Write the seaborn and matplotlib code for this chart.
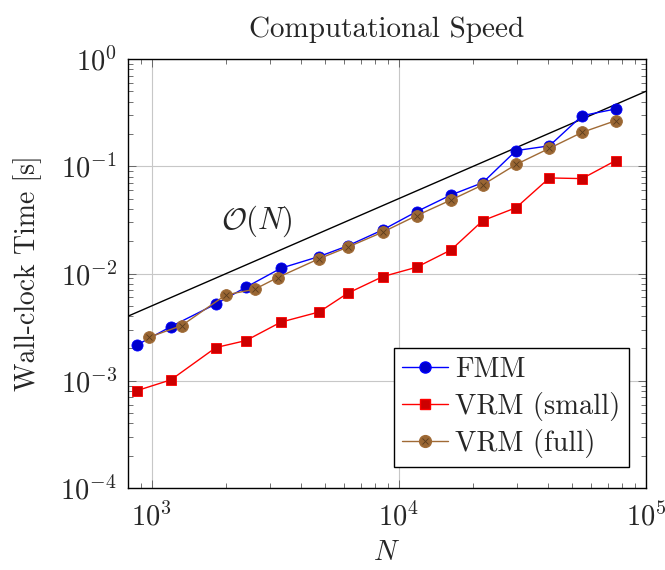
import matplotlib
matplotlib.use("Agg")
import matplotlib.pyplot as plt
import pandas as pd
import seaborn as sns
from matplotlib.lines import Line2D
from matplotlib.ticker import LogLocator, NullFormatter

# problem size N and wall-clock times [s]
n_fmm = [871, 1194, 1815, 2403, 3326, 4753, 6197, 8590, 11800, 16250, 21830, 29800, 40640, 55100, 75300]
t_fmm = [2.16e-3, 3.2e-3, 5.2e-3, 7.45e-3, 0.0112, 0.0144, 0.0181, 0.0255, 0.0378, 0.054, 0.0703,
         0.140, 0.155, 0.296, 0.342]

n_small = [871, 1194, 1815, 2403, 3326, 4753, 6197, 8590, 11800, 16250, 21830, 29800, 40640, 55100, 75300]
t_small = [8.1e-4, 1.02e-3, 2.04e-3, 2.37e-3, 3.52e-3, 4.38e-3, 6.54e-3, 9.35e-3, 0.01145, 0.0166,
           0.0311, 0.0411, 0.0778, 0.0767, 0.1128]

n_full = [975, 1319, 1993, 2610, 3228, 4730, 6200, 8590, 11800, 16250, 21830, 29800, 40640, 55100, 75300]
t_full = [2.55e-3, 3.27e-3, 6.32e-3, 7.14e-3, 9.17e-3, 0.01368, 0.0176, 0.0243, 0.0347, 0.0485, 0.067,
          0.104, 0.147, 0.207, 0.266]

# O(N) reference line
ref_n = [800, 1e5]
ref_t = [4.0e-3, 0.5]

sns.set_theme(style="ticks")
plt.rcParams["font.family"] = "serif"
plt.rcParams["font.serif"] = ["cmr10"]
plt.rcParams["mathtext.fontset"] = "cm"
plt.rcParams["axes.formatter.use_mathtext"] = True
plt.rcParams["font.size"] = 20

BLUE, BLUE_FILL = "#0000ff", "#0000cc"
RED, RED_FILL = "#ff0000", "#cc0000"
BROWN, BROWN_FILL = "#a06a35", "#996633"

fig = plt.figure(figsize=(6.65, 5.7), dpi=100)
ax = fig.add_axes([128 / 665, 1 - 488 / 570, (646 - 128) / 665, (488 - 59) / 570])

ax.set_xscale("log")
ax.set_yscale("log")

ref = pd.DataFrame({"N": ref_n, "t": ref_t})
sns.lineplot(data=ref, x="N", y="t", ax=ax, color="black", linewidth=1.0, estimator=None, sort=False)

fmm = pd.DataFrame({"N": n_fmm, "t": t_fmm})
small = pd.DataFrame({"N": n_small, "t": t_small})
full = pd.DataFrame({"N": n_full, "t": t_full})

sns.lineplot(data=fmm, x="N", y="t", ax=ax, color=BLUE, linewidth=1.0, marker="o",
             markersize=8, markerfacecolor=BLUE_FILL, markeredgecolor=BLUE, markeredgewidth=0.6,
             estimator=None, sort=False)
sns.lineplot(data=small, x="N", y="t", ax=ax, color=RED, linewidth=1.0, marker="s",
             markersize=7.5, markerfacecolor=RED_FILL, markeredgecolor=RED, markeredgewidth=0.6,
             estimator=None, sort=False)
sns.lineplot(data=full, x="N", y="t", ax=ax, color=BROWN, linewidth=1.0, marker="o",
             markersize=8.5, markerfacecolor=BROWN_FILL, markeredgecolor=BROWN, markeredgewidth=0.6,
             estimator=None, sort=False)
# cross inside the brown circles (otimes marker)
ax.plot(n_full, t_full, linestyle="none", marker="x", markersize=5, markeredgecolor="#5a3c1e",
        markeredgewidth=0.6)

ax.text(2660, 0.031, r"$\mathcal{O}(N)$", ha="center", va="center", fontsize=22)

ax.set_xlim(800, 1e5)
ax.set_ylim(1e-4, 1)

ax.xaxis.set_minor_locator(LogLocator(base=10, subs=range(2, 10), numticks=20))
ax.yaxis.set_minor_locator(LogLocator(base=10, subs=range(2, 10), numticks=20))
ax.xaxis.set_minor_formatter(NullFormatter())
ax.yaxis.set_minor_formatter(NullFormatter())

ax.grid(True, which="major", color="0.78", linewidth=0.8)
ax.tick_params(which="both", direction="in", top=True, right=True, color="0.35", width=0.6)
ax.tick_params(which="major", length=6, labelsize=20.5)
ax.tick_params(axis="x", which="major", pad=10)
ax.tick_params(axis="y", which="major", pad=8)
ax.tick_params(which="minor", length=3.5)
for spine in ax.spines.values():
    spine.set_color("black")
    spine.set_linewidth(1.0)

ax.set_xlabel(r"$N$", fontsize=20.5, labelpad=6)
ax.set_ylabel("Wall-clock Time [s]", fontsize=20, labelpad=13)
ax.set_title("Computational Speed", fontsize=21, pad=16)

h_fmm = Line2D([], [], color=BLUE, linewidth=1.0, marker="o", markersize=8,
               markerfacecolor=BLUE_FILL, markeredgecolor=BLUE)
h_small = Line2D([], [], color=RED, linewidth=1.0, marker="s", markersize=7.5,
                 markerfacecolor=RED_FILL, markeredgecolor=RED)
h_full = Line2D([], [], color=BROWN, linewidth=1.0, marker="o", markersize=8.5,
                markerfacecolor=BROWN_FILL, markeredgecolor=BROWN)
h_cross = Line2D([], [], linestyle="none", marker="x", markersize=5, markeredgecolor="#5a3c1e",
                 markeredgewidth=0.6)
leg = ax.legend([h_fmm, h_small, (h_full, h_cross)], ["FMM", "VRM (small)", "VRM (full)"],
                loc="lower right", bbox_to_anchor=(0.967, 0.049), fontsize=20.5, frameon=True,
                fancybox=False, framealpha=1, edgecolor="black", handlelength=1.6,
                labelspacing=0.3, borderaxespad=0, borderpad=0.3, handletextpad=0.25)
leg.get_frame().set_linewidth(1.0)

fig.savefig("out.png", dpi=100)
